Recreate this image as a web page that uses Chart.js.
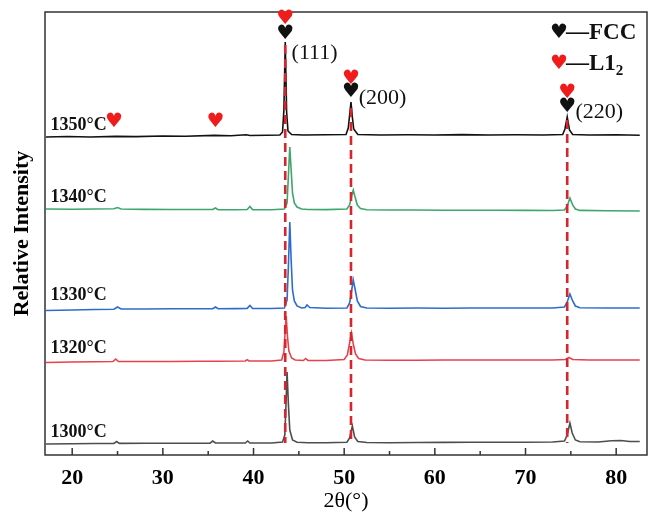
<!DOCTYPE html>
<html>
<head>
  <title>XRD patterns</title>
  <script src="https://cdn.jsdelivr.net/npm/chart.js"></script>
  <style>
    body { margin: 0; background: #ffffff; }
  </style>
</head>
<body>
  <canvas id="xrdChart" width="660" height="526"></canvas>

  <script>
    // bottom axis ticks, labels only on the tens
    const xTicks = [20, 25, 30, 35, 40, 45, 50, 55, 60, 65, 70, 75, 80];

    const sampleNames = ["1350°C", "1340°C", "1330°C", "1320°C", "1300°C"];
    const sampleColors = ["#111111", "#3fa56e", "#2d6ccd", "#e5434c", "#4d4d4d"];
    const labelLevels = [330, 258, 160, 107, 23];

    // [2θ, intensity], patterns already offset
    const s1350 = [
      [17.1, 318], [19.5, 318.5], [22, 318], [24.8, 318.6], [27, 318.4], [30, 319],
      [32.5, 318.8], [35.7, 319.6], [37.5, 319.3], [39.2, 320.3], [39.6, 319.5], [41.5, 319.8],
      [42.9, 320], [43.2, 323], [43.35, 345], [43.5, 413], [43.65, 343], [43.8, 324],
      [44.2, 320.5], [45.5, 320], [48, 320.2], [50.2, 320.5], [50.45, 327], [50.6, 340],
      [50.75, 353], [50.9, 338], [51.05, 326], [51.5, 320.5], [54, 320], [57, 320.3],
      [60, 320], [63, 320.4], [66, 320], [69, 320.2], [72, 320], [74.1, 320.5],
      [74.35, 326], [74.6, 338], [74.85, 325], [75.2, 320.5], [77, 320], [80, 320.2],
      [82.6, 319.8]
    ];
    const s1340 = [
      [17.1, 246], [20, 245.8], [22.5, 246], [24.6, 246.2], [25, 247.5], [25.4, 246],
      [28, 245.6], [31, 245.5], [33.5, 245.5], [35.5, 245.5], [35.8, 247], [36.1, 245.4],
      [38, 245.3], [39.3, 245.5], [39.6, 248.5], [39.9, 245.4], [42, 245.3], [43.4, 246],
      [43.7, 252], [43.85, 280], [44.0, 308], [44.15, 285], [44.3, 262], [44.5, 252],
      [44.8, 248], [45.3, 246], [46, 245.5], [48, 245.4], [50.3, 246], [50.6, 250],
      [50.85, 260], [51.0, 265], [51.2, 258], [51.45, 250], [51.8, 246.5], [52.5, 245.3],
      [55, 245], [58, 245], [61, 244.8], [64, 244.8], [67, 244.8], [70, 244.6],
      [73, 244.5], [74.3, 245], [74.6, 249], [74.9, 257], [75.2, 250], [75.5, 246],
      [76, 244.6], [79, 244.3], [82.6, 244]
    ];
    const s1330 = [
      [17.1, 144.5], [20, 145], [22.5, 145.5], [24.6, 145.8], [25, 148], [25.4, 146],
      [28, 146], [31, 146.2], [33.5, 146.2], [35.5, 146.3], [35.8, 148], [36.1, 146.3],
      [38, 146.4], [39.3, 146.6], [39.6, 149.5], [39.9, 146.5], [42, 146.5], [43.4, 147],
      [43.7, 155], [43.85, 190], [44.0, 233], [44.15, 195], [44.3, 165], [44.5, 154],
      [44.8, 149], [45.3, 147], [45.7, 147.5], [45.9, 150], [46.2, 147.5], [48, 146.7],
      [50.3, 147], [50.6, 152], [50.85, 166], [51.0, 175], [51.2, 166], [51.45, 154],
      [51.8, 148.5], [52.5, 147], [55, 146.8], [58, 147], [61, 146.8], [64, 147],
      [67, 147], [70, 147], [73, 147], [74.3, 148], [74.6, 153], [74.9, 161],
      [75.2, 154], [75.5, 149], [76, 147.3], [79, 147], [82.6, 147]
    ];
    const s1320 = [
      [17.1, 92.5], [20, 93], [22.5, 93.3], [24.5, 93.5], [24.8, 96], [25.1, 93.5],
      [28, 93.5], [31, 93.5], [34, 93.8], [36, 93.8], [39.1, 94], [39.3, 95.3],
      [39.5, 94], [42, 94], [43.1, 95], [43.35, 103], [43.5, 125], [43.6, 139],
      [43.75, 118], [43.9, 104], [44.2, 97], [44.6, 95], [45.5, 94.5], [45.75, 96.5],
      [46, 94.6], [48, 94.5], [50.0, 95.5], [50.35, 100], [50.6, 112], [50.8, 122],
      [51.0, 111], [51.25, 101], [51.6, 96.5], [52.3, 95], [55, 94.7], [58, 94.8],
      [61, 95], [64, 95], [67, 95], [70, 95], [73, 95], [74.4, 95.5],
      [74.8, 97.5], [75.2, 95.5], [77, 95], [80, 95], [82.6, 95]
    ];
    const s1300 = [
      [17.1, 11], [20, 11.2], [22.5, 11.5], [24.6, 11.6], [24.9, 13.5], [25.2, 11.6],
      [28, 11.7], [31, 11.8], [35.2, 11.9], [35.5, 14], [35.8, 12], [38, 12],
      [39.1, 12], [39.35, 14], [39.6, 12], [42, 12], [43.2, 13], [43.45, 20],
      [43.6, 55], [43.7, 83], [43.85, 50], [44.0, 25], [44.3, 15], [44.8, 12.8],
      [46, 12.3], [48, 12.3], [50.3, 12.8], [50.6, 17], [50.9, 29], [51.15, 18],
      [51.5, 13.5], [52.5, 12.5], [55, 12.3], [58, 12.5], [61, 12.6], [64, 12.7],
      [67, 12.8], [70, 12.8], [73, 13], [74.3, 14], [74.6, 20], [74.9, 32],
      [75.15, 22], [75.5, 15], [76, 13.2], [78, 13], [79.5, 14.2], [80.5, 14.5],
      [81.5, 13.5], [82.6, 13.5]
    ];
    const patterns = [s1350, s1340, s1330, s1320, s1300];

    // reference peak positions (dashed red lines)
    const refAngles = [43.5, 50.75, 74.6];
    const refTops = [410, 347, 335];
    const refBottom = 12;

    // phase markers
    const fccX = [43.5, 50.75, 74.6];
    const fccY = [421, 363, 348];
    const l12X = [43.5, 50.75, 74.6, 24.6, 35.8];
    const l12Y = [436, 376, 362, 333, 333];

    const peakNames = ["(111)", "(200)", "(220)"];
    const peakX = [44.2, 51.6, 75.5];
    const peakY = [402, 357, 343];

    const serif = "'Liberation Serif', 'Times New Roman', serif";
    const heartFont = "20px 'DejaVu Sans'";

    const datasets = [];
    refAngles.forEach((a, i) => {
      datasets.push({
        data: [{ x: a, y: refTops[i] }, { x: a, y: refBottom }],
        borderColor: "#d7262b",
        borderWidth: 2.6,
        borderDash: [9, 5],
        pointRadius: 0,
        order: 0,
      });
    });
    patterns.forEach((p, i) => {
      datasets.push({
        label: sampleNames[i],
        data: p.map(d => ({ x: d[0], y: d[1] })),
        borderColor: sampleColors[i],
        borderWidth: 1.6,
        pointRadius: 0,
        tension: 0,
        order: 1,
      });
    });

    const decorations = {
      id: "decorations",
      afterDatasetsDraw(chart) {
        const { ctx, chartArea, scales } = chart;
        const xs = scales.x, ys = scales.y;
        ctx.save();

        // frame and inward ticks
        ctx.strokeStyle = "#333333";
        ctx.lineWidth = 1.5;
        ctx.strokeRect(chartArea.left, chartArea.top, chartArea.right - chartArea.left, chartArea.bottom - chartArea.top);
        xTicks.forEach(t => {
          const px = xs.getPixelForValue(t);
          const len = t % 10 === 0 ? 7 : 4;
          ctx.beginPath();
          ctx.moveTo(px, chartArea.bottom);
          ctx.lineTo(px, chartArea.bottom - len);
          ctx.stroke();
        });

        // sample names
        ctx.fillStyle = "#111111";
        ctx.textAlign = "left";
        ctx.textBaseline = "middle";
        ctx.font = "bold 18px " + serif;
        sampleNames.forEach((n, i) => {
          ctx.fillText(n, xs.getPixelForValue(17.6), ys.getPixelForValue(labelLevels[i]));
        });

        // peak indices
        ctx.font = "22px " + serif;
        peakNames.forEach((n, i) => {
          ctx.fillText(n, xs.getPixelForValue(peakX[i]), ys.getPixelForValue(peakY[i]));
        });

        // hearts
        ctx.font = heartFont;
        ctx.textAlign = "center";
        ctx.fillStyle = "#111111";
        fccX.forEach((v, i) => ctx.fillText("\u2665", xs.getPixelForValue(v), ys.getPixelForValue(fccY[i])));
        ctx.fillStyle = "#f01c1c";
        l12X.forEach((v, i) => ctx.fillText("\u2665", xs.getPixelForValue(v), ys.getPixelForValue(l12Y[i])));

        // legend box in the upper right corner
        const lx = chartArea.right - 88;
        const ly1 = chartArea.top + 21;
        const ly2 = chartArea.top + 52;
        ctx.fillStyle = "#111111";
        ctx.fillText("\u2665", lx, ly1);
        ctx.fillStyle = "#f01c1c";
        ctx.fillText("\u2665", lx, ly2);
        ctx.fillStyle = "#111111";
        ctx.textAlign = "left";
        ctx.font = "bold 23px " + serif;
        ctx.fillText("\u2014FCC", lx + 7, ly1);
        ctx.fillText("\u2014L1", lx + 7, ly2);
        const w = ctx.measureText("\u2014L1").width;
        ctx.font = "bold 15px " + serif;
        ctx.fillText("2", lx + 7 + w, ly2 + 7);

        ctx.restore();
      },
    };

    new Chart(document.getElementById("xrdChart").getContext("2d"), {
      type: "line",
      data: { datasets: datasets },
      options: {
        responsive: false,
        animation: false,
        layout: { padding: { top: 12, right: 13, left: 0, bottom: 0 } },
        plugins: { legend: { display: false }, tooltip: { enabled: false } },
        scales: {
          x: {
            type: "linear",
            min: 17,
            max: 83.4,
            afterBuildTicks: (axis) => { axis.ticks = xTicks.map(v => ({ value: v })); },
            afterFit: (axis) => { axis.height = 71; },
            grid: { display: false, drawTicks: false, tickLength: 0 },
            border: { display: false },
            ticks: {
              autoSkip: false,
              maxRotation: 0,
              padding: 10,
              color: "#000000",
              font: { family: serif, size: 22, weight: "bold" },
              callback: (v) => (v % 10 === 0 ? v : ""),
            },
            title: {
              display: true,
              text: "2θ(°)",
              color: "#000000",
              padding: { top: 0, bottom: 12 },
              font: { family: serif, size: 22 },
            },
          },
          y: {
            min: 0,
            max: 443,
            afterFit: (axis) => { axis.width = 45; },
            grid: { display: false, drawTicks: false },
            border: { display: false },
            ticks: { display: false },
            title: {
              display: true,
              text: "Relative Intensity",
              color: "#000000",
              padding: { top: 9, bottom: 0 },
              font: { family: serif, size: 22, weight: "bold" },
            },
          },
        },
      },
      plugins: [decorations],
    });
  </script>
</body>
</html>
